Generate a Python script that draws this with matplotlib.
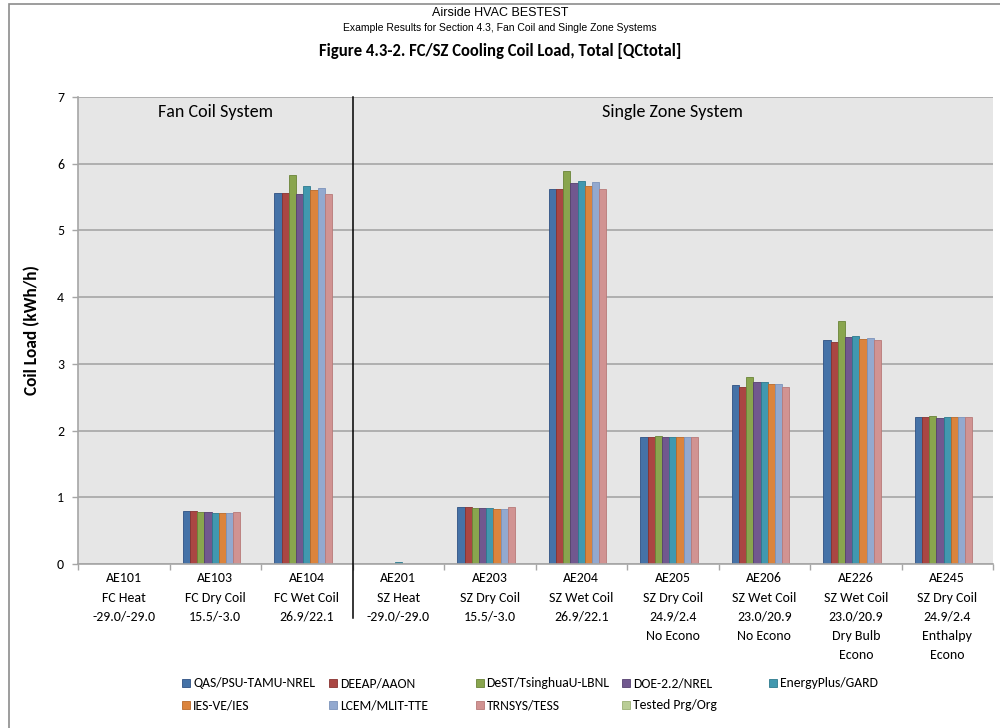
import matplotlib
matplotlib.use("Agg")
import matplotlib.pyplot as plt
import matplotlib.transforms as mtransforms
from matplotlib import font_manager
from matplotlib.patches import Rectangle
import numpy as np


def pick_font(*names):
    available = {f.name for f in font_manager.fontManager.ttflist}
    for name in names:
        if name in available:
            return name
    return "DejaVu Sans"


BODY = pick_font("Carlito", "Lato", "Open Sans")
NARROW = pick_font("Liberation Sans Narrow", "Arial Narrow", "Liberation Sans")

# ---- data -------------------------------------------------------------
case_ids = ["AE101", "AE103", "AE104", "AE201", "AE203", "AE204",
            "AE205", "AE206", "AE226", "AE245"]
case_desc = ["FC Heat", "FC Dry Coil", "FC Wet Coil", "SZ Heat", "SZ Dry Coil",
             "SZ Wet Coil", "SZ Dry Coil", "SZ Wet Coil", "SZ Wet Coil", "SZ Dry Coil"]
case_temps = ["-29.0/-29.0", "15.5/-3.0", "26.9/22.1", "-29.0/-29.0", "15.5/-3.0",
              "26.9/22.1", "24.9/2.4", "23.0/20.9", "23.0/20.9", "24.9/2.4"]
case_notes = ["", "", "", "", "", "", "No Econo", "No Econo",
              "Dry Bulb\nEcono", "Enthalpy\nEcono"]

series_names = ["QAS/PSU-TAMU-NREL", "DEEAP/AAON", "DeST/TsinghuaU-LBNL",
                "DOE-2.2/NREL", "EnergyPlus/GARD", "IES-VE/IES",
                "LCEM/MLIT-TTE", "TRNSYS/TESS", "Tested Prg/Org"]

qas_psu = [0.0, 0.79, 5.56, 0.0, 0.856, 5.615, 1.908, 2.68, 3.353, 2.207]
deeap = [0.0, 0.79, 5.56, 0.0, 0.856, 5.615, 1.908, 2.66, 3.333, 2.207]
dest = [0.0, 0.772, 5.835, 0.0, 0.84, 5.89, 1.923, 2.81, 3.647, 2.222]
doe22 = [0.0, 0.772, 5.54, 0.0, 0.84, 5.705, 1.908, 2.73, 3.403, 2.187]
energyplus = [0.0, 0.757, 5.67, 0.025, 0.84, 5.735, 1.908, 2.73, 3.418, 2.207]
iesve = [0.0, 0.757, 5.60, 0.0, 0.82, 5.67, 1.908, 2.695, 3.373, 2.207]
lcem = [0.0, 0.757, 5.63, 0.0, 0.826, 5.72, 1.908, 2.695, 3.388, 2.207]
trnsys = [0.0, 0.772, 5.54, 0.0, 0.856, 5.615, 1.908, 2.66, 3.353, 2.207]
tested = [None] * 10

series_values = [qas_psu, deeap, dest, doe22, energyplus, iesve, lcem, trnsys, tested]

fill_colors = ["#4572A7", "#AA4643", "#89A54E", "#71588F", "#4198AF",
               "#DB843D", "#93A9CF", "#D19392", "#B9CD96"]
edge_colors = ["#2F5182", "#883230", "#6A8437", "#55406F", "#2D7A8E",
               "#B8692A", "#7C93BA", "#B87A79", "#9AB074"]

# ---- figure -----------------------------------------------------------
W, H = 1000, 728
fig = plt.figure(figsize=(W / 100, H / 100), dpi=100)
fig.patch.set_facecolor("white")


def fx(px):
    return px / W


def fy(py):
    return 1 - py / H


# outer chart frame (runs off the right and bottom edges)
fig.patches.append(Rectangle((fx(9), fy(1040)), 1.2, (1040 - 4) / H,
                             transform=fig.transFigure, fill=False,
                             edgecolor="#8C8C8C", linewidth=1.2))

left, right, top, bottom = 78, 993, 97, 564
ax = fig.add_axes([fx(left), fy(bottom), (right - left) / W, (bottom - top) / H])
ax.set_facecolor("#E6E6E6")

n_cases = len(case_ids)
n_series = len(series_names)
x = np.arange(n_cases)
bar_w = 0.0784

for i, (vals, fc, ec) in enumerate(zip(series_values, fill_colors, edge_colors)):
    v = np.array([np.nan if val is None else val for val in vals], dtype=float)
    ax.bar(x + (i - (n_series - 1) / 2) * bar_w, v, width=bar_w,
           color=fc, edgecolor=ec, linewidth=0.6, zorder=2)

ax.set_xlim(-0.5, n_cases - 0.5)
ax.set_ylim(0, 7)
ax.set_yticks(range(0, 8))
ax.yaxis.grid(True, color="#A6A6A6", linewidth=1.2, zorder=0)
ax.set_axisbelow(True)

for side in ("top", "right"):
    ax.spines[side].set_visible(False)
for side in ("left", "bottom"):
    ax.spines[side].set_color("#A6A6A6")
    ax.spines[side].set_linewidth(1.2)

labels = []
for cid, desc, temp, note in zip(case_ids, case_desc, case_temps, case_notes):
    parts = [cid, desc, temp] + ([note] if note else [])
    labels.append("\n".join(parts))

ax.set_xticks(x)
ax.set_xticklabels(labels, fontsize=10, family=BODY, linespacing=1.72,
                   va="top")
ax.set_xticks(np.arange(-0.5, n_cases, 1.0), minor=True)
ax.tick_params(axis="x", which="major", length=0, pad=6)
ax.tick_params(axis="x", which="minor", length=4, color="#A6A6A6", width=1)
ax.tick_params(axis="y", which="major", length=4, color="#A6A6A6", width=1,
               labelsize=10, pad=6)
for t in ax.get_yticklabels():
    t.set_family(BODY)

# divider between fan coil and single zone cases
trans = mtransforms.blended_transform_factory(ax.transData, ax.transAxes)
ax.plot([2.5, 2.5], [-(618 - bottom) / (bottom - top), 1.0], color="black",
        linewidth=1.1, transform=trans, clip_on=False, zorder=5)

ax.text(1.0, 6.77, "Fan Coil System", ha="center", va="center",
        fontsize=13, family=BODY)
ax.text(6.0, 6.77, "Single Zone System", ha="center", va="center",
        fontsize=13, family=BODY)

ax.set_ylabel("Coil Load (kWh/h)", fontsize=12.5, fontweight="bold",
              family=BODY, labelpad=12)

# titles
fig.text(0.5, fy(13), "Airside HVAC BESTEST", ha="center", va="center",
         fontsize=9, family=NARROW)
fig.text(0.5, fy(28), "Example Results for Section 4.3, Fan Coil and Single Zone Systems",
         ha="center", va="center", fontsize=7.5, family=NARROW)
fig.text(0.5, fy(51), "Figure 4.3-2. FC/SZ Cooling Coil Load, Total [QCtotal]",
         ha="center", va="center", fontsize=12, fontweight="bold", family=BODY)

# legend: five columns, two rows
col_step = 146.75
for i, (name, fc, ec) in enumerate(zip(series_names, fill_colors, edge_colors)):
    col, row = i % 5, i // 5
    sx = 182 + col * col_step
    sy = 683 + row * 22
    fig.patches.append(Rectangle((fx(sx), fy(sy + 4)), 8 / W, 8 / H,
                                 transform=fig.transFigure, facecolor=fc,
                                 edgecolor=ec, linewidth=0.6))
    fig.text(fx(sx + 11), fy(sy), name, ha="left", va="center",
             fontsize=9.8, family=BODY)

fig.savefig("out.png", dpi=100)
